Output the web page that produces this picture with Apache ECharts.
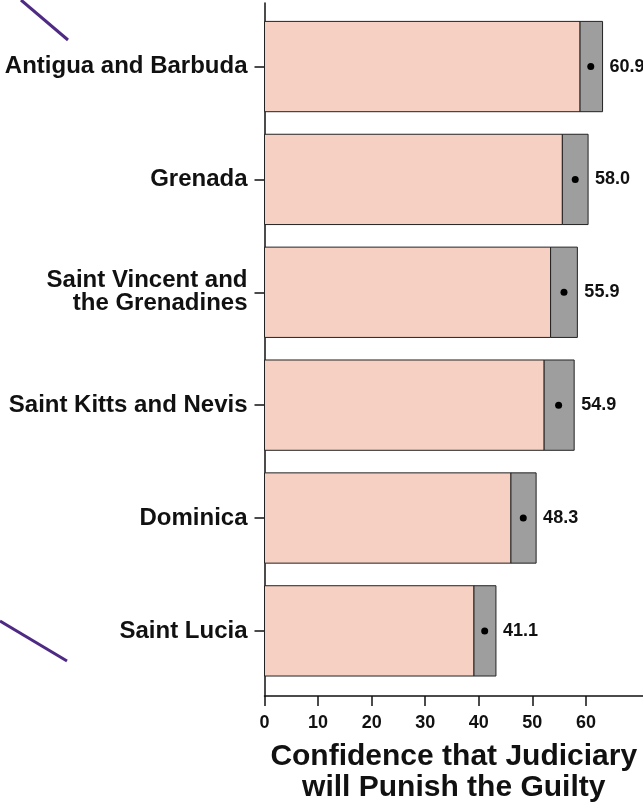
<!DOCTYPE html>
<html>
<head>
<meta charset="utf-8">
<script src="https://cdn.jsdelivr.net/npm/echarts@6/dist/echarts.min.js"></script>
<style>
html,body{margin:0;padding:0;background:#fff;}
#chart{width:643px;height:808px;}
</style>
</head>
<body>
<div id="chart"></div>
<script>
// Data (top to bottom)
var countries = ['Antigua and Barbuda', 'Grenada', 'Saint Vincent and\nthe Grenadines', 'Saint Kitts and Nevis', 'Dominica', 'Saint Lucia'];
var values = [60.9, 58.0, 55.9, 54.9, 48.3, 41.1];
var lower = [58.9, 55.6, 53.4, 52.2, 46.0, 39.1];
var upper = [63.1, 60.4, 58.4, 57.8, 50.7, 43.2];
var xTicks = [0, 10, 20, 30, 40, 50, 60];

var FONT = '"Liberation Sans", Arial, Helvetica, sans-serif';
var chart = echarts.init(document.getElementById('chart'), null, {renderer: 'canvas'});

var seriesData = countries.map(function (c, i) {
  return [i + 1, lower[i], upper[i], values[i]];
});

function renderItem(params, api) {
  var pos = api.value(0);
  var lo = api.value(1);
  var hi = api.value(2);
  var v = api.value(3);
  var h = api.size([0, 0.8])[1];
  var p0 = api.coord([0, pos]);
  var pLo = api.coord([lo, pos]);
  var pHi = api.coord([hi, pos]);
  var pV = api.coord([v, pos]);
  return {
    type: 'group',
    children: [
      {type: 'rect', shape: {x: p0[0], y: p0[1] - h / 2, width: pLo[0] - p0[0], height: h},
        style: {fill: '#f6d0c3', stroke: '#222', lineWidth: 1}},
      {type: 'rect', shape: {x: pLo[0], y: pLo[1] - h / 2, width: pHi[0] - pLo[0], height: h},
        style: {fill: '#9e9e9e', stroke: '#222', lineWidth: 1}},
      {type: 'circle', shape: {cx: pV[0], cy: pV[1], r: 3.5}, style: {fill: '#000'}},
      {type: 'text', x: pHi[0] + 7, y: pHi[1],
        style: {text: v.toFixed(1), fill: '#111', font: 'bold 18px ' + FONT, verticalAlign: 'middle', align: 'left'}}
    ]
  };
}

chart.setOption({
  animation: false,
  backgroundColor: '#fff',
  grid: {left: 264.5, right: 0, top: 3, bottom: 108},
  xAxis: {
    type: 'value', min: 0, max: 70.65, interval: 10,
    axisLine: {show: true, lineStyle: {color: '#111', width: 1.5}},
    axisTick: {show: true, length: 10, customValues: xTicks, lineStyle: {color: '#111', width: 1.5}},
    axisLabel: {customValues: xTicks, margin: 18, color: '#111', fontWeight: 'bold', fontSize: 18, fontFamily: FONT},
    splitLine: {show: false},
    name: 'Confidence that Judiciary\nwill Punish the Guilty',
    nameLocation: 'middle', nameGap: 45,
    nameTextStyle: {color: '#111', fontWeight: 'bold', fontSize: 30, lineHeight: 31, fontFamily: FONT}
  },
  yAxis: {
    type: 'value', inverse: true, min: 0.437, max: 6.577,
    axisLine: {show: true, onZero: false, lineStyle: {color: '#111', width: 1.5}},
    axisTick: {show: true, length: 10, customValues: [1, 2, 3, 4, 5, 6], lineStyle: {color: '#111', width: 1.5}},
    axisLabel: {
      customValues: [1, 2, 3, 4, 5, 6], margin: 17, color: '#111', fontWeight: 'bold', fontSize: 24,
      lineHeight: 23, fontFamily: FONT, align: 'right',
      formatter: function (v) { return countries[Math.round(v) - 1] || ''; }
    },
    splitLine: {show: false}
  },
  graphic: [
    {type: 'line', shape: {x1: 21, y1: 0, x2: 68, y2: 40}, style: {stroke: '#4e2a84', lineWidth: 3}},
    {type: 'line', shape: {x1: 0, y1: 621, x2: 67, y2: 661}, style: {stroke: '#4e2a84', lineWidth: 3}}
  ],
  series: [{
    type: 'custom',
    renderItem: renderItem,
    data: seriesData,
    clip: false,
    encode: {x: [1, 2], y: 0}
  }]
});
</script>
</body>
</html>
